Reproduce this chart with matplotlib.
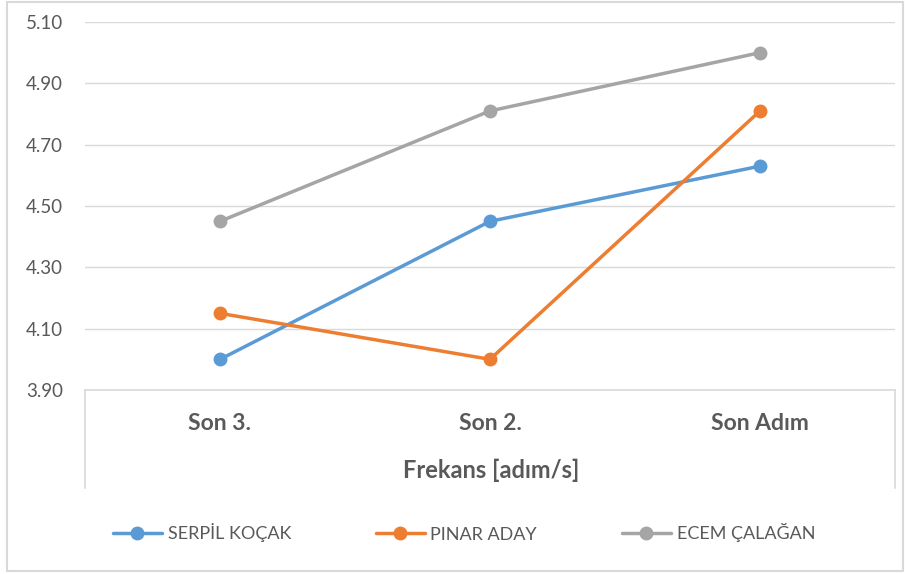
import matplotlib.pyplot as plt
from matplotlib.lines import Line2D
from matplotlib.patches import Rectangle

# data
categories = ['Son 3.', 'Son 2.', 'Son Adım']
serpil = [4.00, 4.45, 4.63]
pinar = [4.15, 4.00, 4.81]
ecem = [4.45, 4.81, 5.00]
series_names = ['SERPİL KOÇAK', 'PINAR ADAY', 'ECEM ÇALAĞAN']
y_ticks = [3.90, 4.10, 4.30, 4.50, 4.70, 4.90, 5.10]

colors = ['#5B9BD5', '#ED7D31', '#A5A5A5']
txt = '#595959'
grid = '#D9D9D9'

plt.rcParams['font.family'] = ['Lato', 'DejaVu Sans']

W, H = 905, 574
fig = plt.figure(figsize=(W / 100, H / 100), dpi=100)

# pixel helpers
def fx(px):
    return px / W

def fy(py):
    return 1 - py / H

ax = fig.add_axes([fx(85), fy(390), fx(895) - fx(85), fy(22) - fy(390)])

x = list(range(len(categories)))
for vals, c, name in zip([serpil, pinar, ecem], colors, series_names):
    ax.plot(x, vals, color=c, lw=2.5, marker='o', markersize=9, label=name,
            solid_capstyle='round')

ax.set_xlim(-0.5, len(categories) - 0.5)
ax.set_ylim(3.90, 5.10)
ax.set_yticks(y_ticks)
ax.set_yticklabels([f'{v:.2f}' for v in y_ticks])
ax.yaxis.grid(True, color=grid, lw=1)
ax.set_axisbelow(True)
ax.tick_params(axis='y', length=0, pad=16, labelsize=13.5, labelcolor=txt)
ax.set_xticks([])
for s in ['left', 'right', 'top']:
    ax.spines[s].set_visible(False)
ax.spines['bottom'].set_color(grid)
ax.spines['bottom'].set_linewidth(1.2)

# category labels and axis title
for i, cat in enumerate(categories):
    ax.text(i, -0.09, cat, transform=ax.get_xaxis_transform(), ha='center',
            va='center', fontsize=16.5, fontweight='bold', color=txt)
fig.text(fx(491), fy(470), 'Frekans [adım/s]', ha='center', va='center',
         fontsize=17, fontweight='bold', color=txt)

# category box side lines
for px in (85, 895):
    fig.add_artist(Line2D([fx(px), fx(px)], [fy(390), fy(488)], color=grid, lw=1.2))

# outer frame
fig.add_artist(Rectangle((fx(7), fy(571)), fx(903) - fx(7), fy(2) - fy(571),
                         fill=False, edgecolor=grid, lw=1.5))

leg = fig.legend(loc='center', bbox_to_anchor=(fx(464), fy(533)), ncol=3,
                 frameon=False, fontsize=13, handlelength=2.7, columnspacing=4.7,
                 handletextpad=0.33)
for t in leg.get_texts():
    t.set_color(txt)

fig.savefig('out.png', dpi=100)
